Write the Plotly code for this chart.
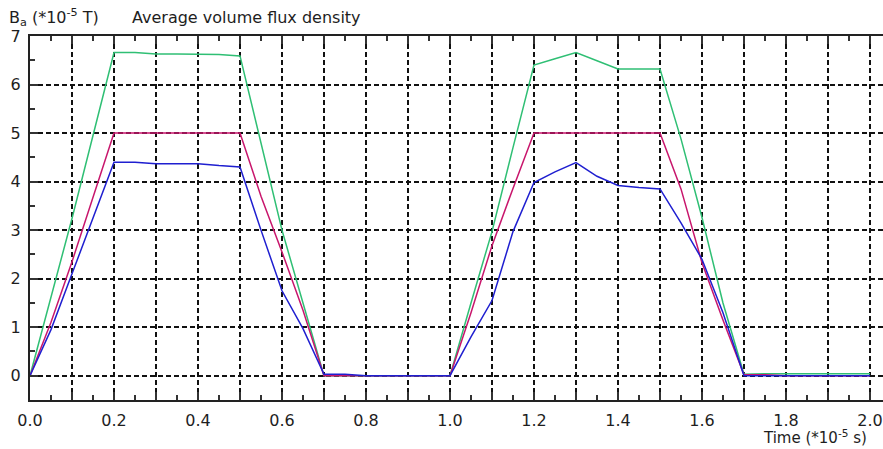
import plotly.graph_objects as go

# Time samples (*10^-5 s)
time = [0.00, 0.05, 0.10, 0.15, 0.20, 0.25, 0.30, 0.35, 0.40, 0.45,
        0.50, 0.55, 0.60, 0.65, 0.70, 0.75, 0.80, 0.85, 0.90, 0.95,
        1.00, 1.05, 1.10, 1.15, 1.20, 1.25, 1.30, 1.35, 1.40, 1.45,
        1.50, 1.55, 1.60, 1.65, 1.70, 1.75, 1.80, 1.85, 1.90, 1.95,
        2.00]

# Average volume flux density (*10^-5 T) for the three series
ba_green = [0.00, 1.60, 3.24, 4.95, 6.66, 6.66, 6.63, 6.63, 6.63, 6.62,
            6.59, 4.82, 3.00, 1.50, 0.00, 0.00, 0.00, 0.00, 0.00, 0.00,
            0.00, 1.50, 2.97, 4.70, 6.40, 6.53, 6.66, 6.49, 6.32, 6.32,
            6.32, 4.88, 3.26, 1.50, 0.03, 0.04, 0.04, 0.04, 0.04, 0.04,
            0.04]
ba_pink = [0.00, 1.10, 2.35, 3.70, 5.00, 5.00, 5.00, 5.00, 5.00, 5.00,
           5.00, 3.70, 2.55, 1.35, 0.00, 0.00, 0.00, 0.00, 0.00, 0.00,
           0.00, 1.30, 2.68, 3.86, 5.00, 5.00, 5.00, 5.00, 5.00, 5.00,
           5.00, 3.85, 2.33, 1.15, 0.02, 0.02, 0.00, 0.00, 0.00, 0.00,
           0.00]
ba_blue = [0.00, 0.95, 2.10, 3.25, 4.40, 4.40, 4.37, 4.37, 4.37, 4.33,
           4.30, 3.00, 1.75, 0.97, 0.03, 0.03, 0.00, 0.00, 0.00, 0.00,
           0.00, 0.80, 1.55, 2.97, 3.98, 4.20, 4.39, 4.11, 3.92, 3.88,
           3.85, 3.15, 2.40, 1.30, 0.00, 0.00, 0.00, 0.00, 0.00, 0.00,
           0.00]

x_tick_vals = [0.0, 0.1, 0.2, 0.3, 0.4, 0.5, 0.6, 0.7, 0.8, 0.9, 1.0,
               1.1, 1.2, 1.3, 1.4, 1.5, 1.6, 1.7, 1.8, 1.9, 2.0]
x_tick_labels = ["0.0", "", "0.2", "", "0.4", "", "0.6", "", "0.8", "", "1.0",
                 "", "1.2", "", "1.4", "", "1.6", "", "1.8", "", "2.0"]
y_tick_vals = [0, 1, 2, 3, 4, 5, 6, 7]
y_tick_labels = ["0", "1", "2", "3", "4", "5", "6", "7"]

FONT = "DejaVu Sans, Verdana, sans-serif"
INK = "#1e1e1e"
FS = 16

fig = go.Figure()
for ys, color in [(ba_green, "#2fbf74"), (ba_pink, "#c8166c"), (ba_blue, "#1f1fd0")]:
    fig.add_trace(go.Scatter(x=time, y=ys, mode="lines",
                             line=dict(color=color, width=1.5),
                             showlegend=False, hoverinfo="skip"))

grid_common = dict(showgrid=True, gridcolor="#111111", gridwidth=1.6,
                   griddash="5px,3px", zeroline=False,
                   showline=True, linecolor="#222222", linewidth=2,
                   ticks="inside", ticklen=8, tickwidth=2, tickcolor="#333333",
                   tickfont=dict(family=FONT, size=FS, color=INK))

fig.update_xaxes(range=[0, 2.031], tickmode="array",
                 tickvals=x_tick_vals, ticktext=x_tick_labels,
                 mirror="ticks", ticklabelstandoff=5,
                 minor=dict(dtick=0.05, tick0=0, ticks="inside", ticklen=5,
                            tickwidth=2, tickcolor="#333333", showgrid=False),
                 **grid_common)
fig.update_yaxes(range=[-0.5, 7], tickmode="array",
                 tickvals=y_tick_vals, ticktext=y_tick_labels,
                 minor=dict(dtick=0.5, tick0=0, ticks="inside", ticklen=5,
                            tickwidth=2, tickcolor="#333333", showgrid=False),
                 ticklabelstandoff=4,
                 **grid_common)

def px_x(p):
    return (p - 30) / 853.0

def px_y(p):
    return (400 - p) / 364.0

fig.add_annotation(text="B<sub>a</sub> (*10<sup>-5</sup> T)", xref="paper", yref="paper",
                   x=px_x(7), y=px_y(18), xanchor="left", yanchor="middle",
                   showarrow=False, font=dict(family=FONT, size=FS, color=INK))
fig.add_annotation(text="Average volume flux density", xref="paper", yref="paper",
                   x=px_x(130), y=px_y(18), xanchor="left", yanchor="middle",
                   showarrow=False, font=dict(family=FONT, size=FS, color=INK))
fig.add_annotation(text="Time (*10<sup>-5</sup> s)", xref="paper", yref="paper",
                   x=px_x(869), y=px_y(437), xanchor="right", yanchor="middle",
                   showarrow=False, font=dict(family=FONT, size=15, color=INK))

fig.update_layout(width=883, height=449,
                  margin=dict(l=30, r=0, t=36, b=49),
                  paper_bgcolor="white", plot_bgcolor="white")

fig.write_html("out.html", config={"displayModeBar": False})
